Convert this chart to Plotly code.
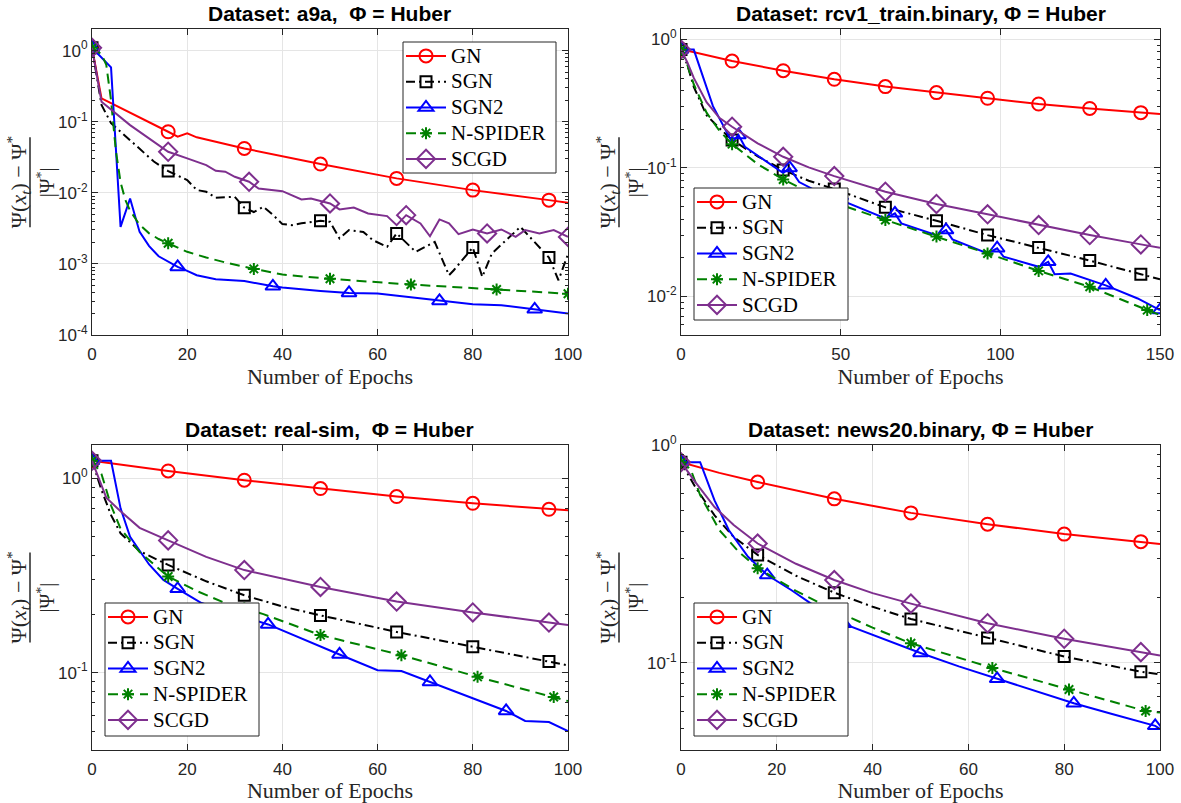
import plotly.graph_objects as go

# ---------------- data ----------------
SERIES_NAMES = ["GN", "SGN", "SGN2", "N-SPIDER", "SCGD"]

# Dataset a9a (epochs 0-100)
A9A_GN_X = [0, 2, 16, 18, 20, 22, 32, 48, 64, 80, 96, 100]
A9A_GN_Y = [1.096, 0.2133, 0.0723, 0.0615, 0.0686, 0.0603, 0.0421, 0.0254, 0.01596, 0.01091, 0.00789, 0.00723]
A9A_GN_M = [0, 16, 32, 48, 64, 80, 96]
A9A_SGN_X = [0, 2, 4, 6, 10, 13, 16, 20, 22, 24, 26, 30, 32, 34, 36, 38, 40, 42, 44, 48, 50, 52, 54, 57, 59,
             62, 64, 68, 72, 75, 76, 80, 82, 84, 90, 96, 98, 100]
A9A_SGN_Y = [1.096, 0.1718, 0.0955, 0.0724, 0.0422, 0.0275, 0.0202, 0.0151, 0.01096, 0.01033, 0.00851, 0.00879,
             0.00617, 0.00537, 0.00635, 0.0049, 0.00363, 0.00351, 0.00372, 0.00404, 0.00391, 0.00228, 0.00299,
             0.00282, 0.00216, 0.00174, 0.00268, 0.00148, 0.00204, 0.000693, 0.000815, 0.0017, 0.000656,
             0.0014, 0.00332, 0.00123, 0.000589, 0.00137]
A9A_SGN_M = [0, 16, 32, 48, 64, 80, 96]
A9A_SGN2_X = [0, 4, 6, 8, 10, 12, 14, 18, 20, 22, 26, 32, 38, 40, 48, 54, 60, 73, 80, 86, 93, 100]
A9A_SGN2_Y = [1.096, 0.582, 0.00332, 0.00832, 0.00282, 0.00178, 0.00128, 0.000908, 0.000796, 0.000692,
              0.000608, 0.000575, 0.000484, 0.000465, 0.000417, 0.000391, 0.000383, 0.000301, 0.00027,
              0.000262, 0.00023, 0.0002]
A9A_SGN2_M = [0, 18, 38, 54, 73, 93]
A9A_NSP_X = [0, 2, 3, 4, 5, 6, 7, 8, 10, 12, 14, 16, 18, 20, 24, 28, 34, 40, 50, 67, 85, 100]
A9A_NSP_Y = [1.096, 0.891, 0.631, 0.1995, 0.0398, 0.0141, 0.00794, 0.00562, 0.00355, 0.00269, 0.00224,
             0.00195, 0.00166, 0.00148, 0.00123, 0.00105, 0.000851, 0.000708, 0.000617, 0.000513,
             0.000437, 0.00038]
A9A_NSP_M = [0, 16, 34, 50, 67, 85, 100]
A9A_SCGD_X = [0, 2, 8, 12, 16, 20, 24, 26, 28, 30, 33, 35, 40, 44, 46, 50, 52, 55, 58, 62, 64, 66, 69, 71,
              73, 75, 77, 80, 83, 86, 89, 91, 94, 97, 100]
A9A_SCGD_Y = [1.096, 0.1914, 0.0897, 0.0582, 0.0378, 0.0305, 0.0245, 0.0204, 0.0198, 0.0168, 0.0143, 0.0115,
              0.01054, 0.00805, 0.00832, 0.00708, 0.00583, 0.00622, 0.00513, 0.0047, 0.00351, 0.00485,
              0.00371, 0.00245, 0.00422, 0.00371, 0.00262, 0.00305, 0.00268, 0.00305, 0.0024, 0.00299,
              0.00268, 0.00299, 0.0024]
A9A_SCGD_M = [0, 16, 33, 50, 66, 83, 100]

# Dataset rcv1_train.binary (epochs 0-150)
RCV_GN_X = [0, 16, 32, 48, 64, 80, 96, 112, 128, 144, 150]
RCV_GN_Y = [0.836, 0.678, 0.570, 0.489, 0.429, 0.385, 0.348, 0.314, 0.290, 0.269, 0.262]
RCV_GN_M = [0, 16, 32, 48, 64, 80, 96, 112, 128, 144]
RCV_SGN_X = [0, 2, 4, 8, 12, 16, 24, 32, 40, 48, 64, 80, 96, 112, 128, 144, 150]
RCV_SGN_Y = [0.832, 0.631, 0.427, 0.257, 0.204, 0.165, 0.123, 0.0962, 0.0794, 0.0684, 0.0493, 0.0388,
             0.03, 0.024, 0.019, 0.0149, 0.0136]
RCV_SGN_M = [0, 16, 32, 48, 64, 80, 96, 112, 128, 144]
RCV_SGN2_X = [0, 4, 10, 16, 18, 20, 32, 34, 37, 48, 50, 52, 64, 67, 69, 80, 83, 85, 96, 99, 101, 112, 115,
              117, 122, 130, 133, 143, 150]
RCV_SGN2_Y = [0.832, 0.832, 0.302, 0.158, 0.18, 0.146, 0.0912, 0.1, 0.0776, 0.0562, 0.0603, 0.0537, 0.0405,
              0.0443, 0.037, 0.03, 0.0328, 0.0278, 0.0216, 0.0237, 0.0204, 0.017, 0.0186, 0.0149, 0.0151,
              0.013, 0.0122, 0.00964, 0.00783]
RCV_SGN2_M = [0, 18, 34, 50, 67, 83, 99, 115, 133, 150]
RCV_NSP_X = [0, 2, 4, 8, 12, 16, 24, 32, 40, 48, 64, 80, 96, 112, 128, 146, 150]
RCV_NSP_Y = [0.832, 0.631, 0.447, 0.269, 0.195, 0.153, 0.107, 0.0813, 0.0646, 0.0537, 0.0393, 0.0292,
             0.0216, 0.0158, 0.0119, 0.00783, 0.00716]
RCV_NSP_M = [0, 16, 32, 48, 64, 80, 96, 112, 128, 146]
RCV_SCGD_X = [0, 2, 4, 8, 12, 16, 24, 32, 40, 48, 64, 80, 96, 112, 128, 144, 150]
RCV_SCGD_Y = [0.832, 0.661, 0.501, 0.324, 0.245, 0.209, 0.155, 0.122, 0.101, 0.0863, 0.0653, 0.0524,
              0.0435, 0.0359, 0.03, 0.0254, 0.0239]
RCV_SCGD_M = [0, 16, 32, 48, 64, 80, 96, 112, 128, 144]

# Dataset real-sim (epochs 0-100)
RS_GN_X = [0, 16, 32, 48, 64, 80, 96, 100]
RS_GN_Y = [1.23, 1.09, 0.977, 0.885, 0.805, 0.743, 0.692, 0.684]
RS_GN_M = [0, 16, 32, 48, 64, 80, 96]
RS_SGN_X = [0, 2, 4, 6, 10, 13, 16, 24, 32, 40, 48, 64, 80, 96, 100]
RS_SGN_Y = [1.23, 0.87, 0.646, 0.521, 0.422, 0.389, 0.358, 0.295, 0.25, 0.219, 0.197, 0.162, 0.136, 0.114, 0.109]
RS_SGN_M = [0, 16, 32, 48, 64, 80, 96]
RS_SGN2_X = [0, 4, 6, 8, 12, 15, 18, 23, 30, 37, 52, 60, 65, 71, 87, 91, 96, 100]
RS_SGN2_Y = [1.23, 1.23, 0.70, 0.50, 0.36, 0.30, 0.27, 0.228, 0.20, 0.177, 0.124, 0.103, 0.102, 0.0895,
             0.0635, 0.0564, 0.0557, 0.0501]
RS_SGN2_M = [0, 18, 37, 52, 71, 87]
RS_NSP_X = [0, 2, 4, 6, 10, 16, 22, 28, 32, 36, 48, 65, 81, 97, 100]
RS_NSP_Y = [1.23, 1.05, 0.724, 0.55, 0.417, 0.312, 0.263, 0.228, 0.214, 0.2, 0.156, 0.123, 0.0951, 0.075, 0.0714]
RS_NSP_M = [0, 16, 32, 48, 65, 81, 97]
RS_SCGD_X = [0, 3, 6, 10, 16, 24, 32, 48, 64, 80, 96, 100]
RS_SCGD_Y = [1.23, 0.794, 0.676, 0.556, 0.479, 0.394, 0.337, 0.276, 0.232, 0.204, 0.181, 0.176]
RS_SCGD_M = [0, 16, 32, 48, 64, 80, 96]

# Dataset news20.binary (epochs 0-100)
N20_GN_X = [0, 8, 16, 32, 48, 64, 80, 96, 100]
N20_GN_Y = [0.834, 0.745, 0.676, 0.566, 0.488, 0.433, 0.39, 0.36, 0.351]
N20_GN_M = [0, 16, 32, 48, 64, 80, 96]
N20_SGN_X = [0, 3, 7, 11, 16, 24, 32, 40, 48, 64, 80, 96, 100]
N20_SGN_Y = [0.834, 0.641, 0.475, 0.378, 0.313, 0.251, 0.21, 0.181, 0.159, 0.13, 0.107, 0.091, 0.0885]
N20_SGN_M = [0, 16, 32, 48, 64, 80, 96]
N20_SGN2_X = [0, 4, 7, 10, 14, 18, 23, 27, 34, 42, 50, 58, 66, 74, 82, 90, 99, 100]
N20_SGN2_Y = [0.834, 0.834, 0.557, 0.406, 0.307, 0.253, 0.216, 0.188, 0.151, 0.129, 0.111, 0.0964, 0.0845,
              0.0738, 0.0652, 0.0582, 0.0514, 0.0497]
N20_SGN2_M = [0, 18, 34, 50, 66, 82, 99]
N20_NSP_X = [0, 2, 4, 8, 12, 16, 24, 32, 40, 48, 65, 81, 97, 100]
N20_NSP_Y = [0.834, 0.776, 0.589, 0.407, 0.324, 0.272, 0.214, 0.174, 0.145, 0.123, 0.0948, 0.0755, 0.0601, 0.0592]
N20_NSP_M = [0, 16, 32, 48, 65, 81, 97]
N20_SCGD_X = [0, 3, 7, 11, 16, 24, 32, 40, 48, 64, 80, 96, 100]
N20_SCGD_Y = [0.834, 0.676, 0.519, 0.429, 0.353, 0.285, 0.24, 0.209, 0.187, 0.152, 0.129, 0.112, 0.108]
N20_SCGD_M = [0, 16, 32, 48, 64, 80, 96]

TITLES = ["Dataset: a9a,  \u03a6 = Huber", "Dataset: rcv1_train.binary, \u03a6 = Huber",
          "Dataset: real-sim,  \u03a6 = Huber", "Dataset: news20.binary, \u03a6 = Huber"]
X_RANGES = [[0, 100], [0, 150], [0, 100], [0, 100]]
X_DTICKS = [20, 50, 20, 20]
Y_LOG_RANGES = [[-4, 0.30], [-2.3, 0.078], [-1.398, 0.171], [-1.4, 0.0]]
Y_DECADES = [[-4, -3, -2, -1, 0], [-2, -1, 0], [-1, 0], [-1, 0]]
X_LABEL = "Number of Epochs"

PANELS = [
    [(A9A_GN_X, A9A_GN_Y, A9A_GN_M), (A9A_SGN_X, A9A_SGN_Y, A9A_SGN_M), (A9A_SGN2_X, A9A_SGN2_Y, A9A_SGN2_M),
     (A9A_NSP_X, A9A_NSP_Y, A9A_NSP_M), (A9A_SCGD_X, A9A_SCGD_Y, A9A_SCGD_M)],
    [(RCV_GN_X, RCV_GN_Y, RCV_GN_M), (RCV_SGN_X, RCV_SGN_Y, RCV_SGN_M), (RCV_SGN2_X, RCV_SGN2_Y, RCV_SGN2_M),
     (RCV_NSP_X, RCV_NSP_Y, RCV_NSP_M), (RCV_SCGD_X, RCV_SCGD_Y, RCV_SCGD_M)],
    [(RS_GN_X, RS_GN_Y, RS_GN_M), (RS_SGN_X, RS_SGN_Y, RS_SGN_M), (RS_SGN2_X, RS_SGN2_Y, RS_SGN2_M),
     (RS_NSP_X, RS_NSP_Y, RS_NSP_M), (RS_SCGD_X, RS_SCGD_Y, RS_SCGD_M)],
    [(N20_GN_X, N20_GN_Y, N20_GN_M), (N20_SGN_X, N20_SGN_Y, N20_SGN_M), (N20_SGN2_X, N20_SGN2_Y, N20_SGN2_M),
     (N20_NSP_X, N20_NSP_Y, N20_NSP_M), (N20_SCGD_X, N20_SCGD_Y, N20_SCGD_M)],
]

# ---------------- styles ----------------
W, H = 1181, 803
STYLES = [
    dict(color="#FF0000", dash="solid", symbol="circle-open", size=13),
    dict(color="#000000", dash="9px,4px,2px,4px", symbol="square-open", size=11),
    dict(color="#0000FF", dash="solid", symbol="triangle-up-open", size=13),
    dict(color="#008000", dash="10px,6px", symbol="asterisk-open", size=10),
    dict(color="#7E2F8E", dash="solid", symbol="diamond-open", size=14),
]
AX_COLOR = "#262626"
GRID = "#e5e5e5"

# axes boxes in pixels: (left, right, top, bottom)
BOXES = [(92, 568, 29.3, 335), (681, 1160, 29.3, 335), (92, 568, 445, 750), (681, 1160, 445, 750)]
# legend boxes in pixels: (left, top, right, bottom)
LEGEND_BOXES = [(403, 42, 556, 173), (694, 188, 848, 320), (105, 603, 259, 736), (694, 603, 848, 736)]


def px_x(v):
    return v / W


def px_y(v):
    return 1 - v / H


fig = go.Figure()
layout = dict(width=W, height=H, margin=dict(l=0, r=0, t=0, b=0, autoexpand=False), plot_bgcolor="white",
              paper_bgcolor="white", showlegend=True)
annotations = []
shapes = []

for i, (panel, box) in enumerate(zip(PANELS, BOXES)):
    n = i + 1
    xa = "x" if n == 1 else f"x{n}"
    ya = "y" if n == 1 else f"y{n}"
    leg = "legend" if n == 1 else f"legend{n}"
    L, R, T, B = box
    for (xs, ys, marks), name, st in zip(panel, SERIES_NAMES, STYLES):
        lookup = dict(zip(xs, ys))
        fig.add_trace(go.Scatter(x=xs, y=ys, mode="lines", xaxis=xa, yaxis=ya, showlegend=False,
                                 line=dict(color=st["color"], width=2, dash=st["dash"]), hoverinfo="skip"))
        fig.add_trace(go.Scatter(x=marks, y=[lookup[m] for m in marks], mode="markers", xaxis=xa, yaxis=ya,
                                 showlegend=False, hoverinfo="skip",
                                 marker=dict(symbol=st["symbol"], size=st["size"], color=st["color"],
                                             line=dict(width=2, color=st["color"]))))
        fig.add_trace(go.Scatter(x=[None], y=[None], mode="lines+markers",
                                 name=f'<span style="font-size:21px">{name}</span>', xaxis=xa, yaxis=ya,
                                 legend=leg, line=dict(color=st["color"], width=2, dash=st["dash"]),
                                 marker=dict(symbol=st["symbol"], size=st["size"], color=st["color"],
                                             line=dict(width=2, color=st["color"]))))

    minor_vals = [m * 10 ** d for d in range(-5, 1) for m in range(2, 10)]
    layout["xaxis" if n == 1 else f"xaxis{n}"] = dict(
        domain=[px_x(L), px_x(R)], anchor=ya, range=X_RANGES[i], dtick=X_DTICKS[i], tick0=0,
        ticks="inside", ticklen=6, tickwidth=1, tickcolor=AX_COLOR, mirror="ticks", showline=True,
        linecolor=AX_COLOR, linewidth=1, showgrid=True, gridcolor=GRID, gridwidth=1, zeroline=False,
        ticklabelstandoff=4, automargin=False,
        tickfont=dict(family="Liberation Sans", size=17, color=AX_COLOR),
        title=dict(text=X_LABEL, font=dict(family="Liberation Serif", size=22, color=AX_COLOR), standoff=0))
    layout["yaxis" if n == 1 else f"yaxis{n}"] = dict(
        domain=[px_y(B), px_y(T)], anchor=xa, type="log", range=Y_LOG_RANGES[i], automargin=False,
        tickmode="array", tickvals=[10 ** d for d in Y_DECADES[i]],
        ticktext=[f"10<sup>{d}</sup>" for d in Y_DECADES[i]],
        ticks="inside", ticklen=6, tickwidth=1, tickcolor=AX_COLOR, mirror="ticks", showline=True,
        linecolor=AX_COLOR, linewidth=1, showgrid=True, gridcolor=GRID, gridwidth=1, zeroline=False,
        tickfont=dict(family="Liberation Sans", size=17, color=AX_COLOR),
        minor=dict(tickmode="array", tickvals=minor_vals, ticks="inside", ticklen=3, tickcolor=AX_COLOR,
                   showgrid=False))
    bl, bt, br, bb = LEGEND_BOXES[i]
    # legend frame (white box with dark border, drawn above the curves)
    shapes.append(dict(type="rect", xref="paper", yref="paper", x0=px_x(bl), x1=px_x(br), y0=px_y(bb),
                       y1=px_y(bt), fillcolor="white", line=dict(color=AX_COLOR, width=1), layer="above"))
    layout[leg] = dict(x=px_x(bl - 2), y=px_y(bt - 4), xanchor="left", yanchor="top",
                       bgcolor="rgba(0,0,0,0)", borderwidth=0, tracegroupgap=0, itemwidth=40,
                       font=dict(family="Liberation Serif", size=17.5, color="#000000"))
    # title
    annotations.append(dict(text=f"<b>{TITLES[i]}</b>", x=px_x((L + R) / 2), y=px_y(T - 16), xref="paper",
                            yref="paper", showarrow=False, xanchor="center", yanchor="middle",
                            font=dict(family="Liberation Sans", size=21, color="#000000")))
    # y label as a rotated fraction
    cy = (T + B) / 2
    annotations.append(dict(text="\u03a8(<i>x</i><sub><i>t</i></sub>) \u2212 \u03a8<sup>*</sup>",
                            x=px_x(L - 74), y=px_y(cy), xref="paper", yref="paper", showarrow=False,
                            textangle=-90, xanchor="center", yanchor="middle",
                            font=dict(family="Liberation Serif", size=22, color=AX_COLOR)))
    annotations.append(dict(text="|\u03a8<sup>*</sup>|", x=px_x(L - 46), y=px_y(cy), xref="paper",
                            yref="paper", showarrow=False, textangle=-90, xanchor="center",
                            yanchor="middle", font=dict(family="Liberation Serif", size=20, color=AX_COLOR)))
    shapes.append(dict(type="line", xref="paper", yref="paper", x0=px_x(L - 62), x1=px_x(L - 62),
                       y0=px_y(cy - 45), y1=px_y(cy + 45), line=dict(color=AX_COLOR, width=1.5)))

layout["annotations"] = annotations
layout["shapes"] = shapes
fig.update_layout(**layout)
fig.write_html("out.html", config={"displayModeBar": False},
               post_script="document.body.style.margin='0px';")
